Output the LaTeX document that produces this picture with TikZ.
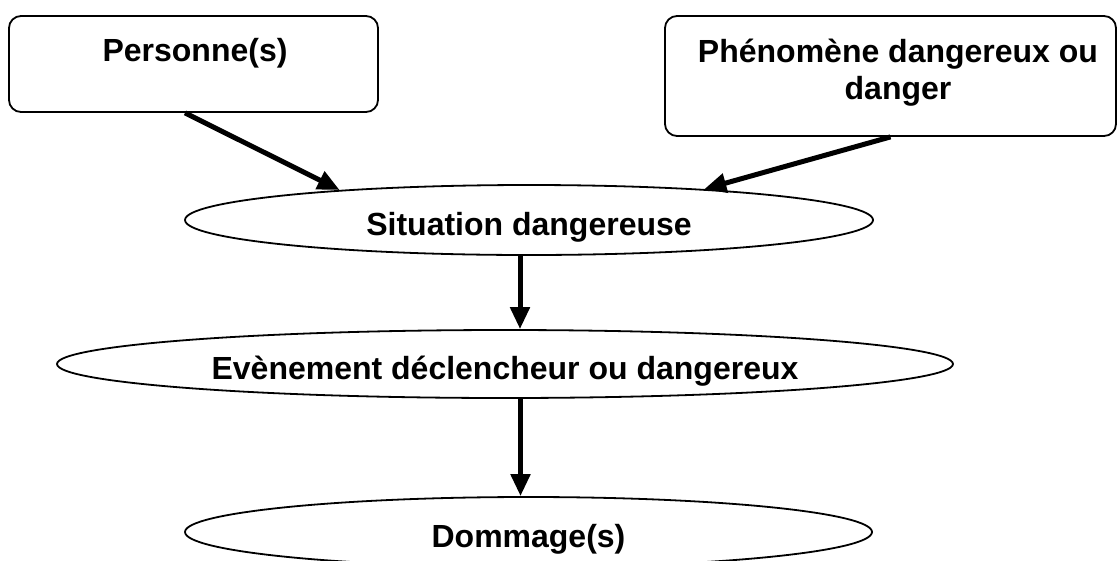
\documentclass[tikz,border=0pt]{standalone}
\usepackage{fontspec}
\setmainfont{Liberation Sans}
\usetikzlibrary{shapes.geometric,arrows.meta}
\begin{document}
\begin{tikzpicture}[x=1pt,y=-1pt,
  box/.style={draw, line width=1.8pt, rounded corners=12pt, inner sep=0pt},
  txt/.style={font=\fontsize{32}{37}\selectfont\bfseries, inner sep=0pt, align=center, anchor=base},
  ell/.style={draw, ellipse, line width=1.8pt, inner sep=0pt, font=\fontsize{32}{37}\selectfont\bfseries, text height=30pt, text depth=0pt},
  arr/.style={line width=5pt, -{Triangle[length=22pt,width=19pt]}}]
\useasboundingbox (0,0) rectangle (1118,560);
\node[box, minimum width=369pt, minimum height=96pt] (box0) at (193.5,64){};
\node[txt] (lbl0) at (195,61){Personne(s)};
\node[box, minimum width=451pt, minimum height=120pt] (box1) at (890.5,76){};
\node[txt] (lbl1) at (898,99){Phénomène dangereux ou\\danger};
\node[ell, minimum width=688pt, minimum height=70pt] (ell0) at (529,220){Situation dangereuse};
\node[ell, minimum width=896pt, minimum height=68pt] (ell1) at (505,364){Evènement déclencheur ou dangereux};
\node[ell, minimum width=687pt, minimum height=70pt] (ell2) at (528.5,532){Dommage(s)};
\draw[arr]([xshift=-8.5pt]box0.south) -- (ell0.171);
\draw[arr](box1.south) -- (ell0.10);
\draw[arr]([xshift=-9pt]ell0.south) -- ([xshift=-9pt]ell0.south |- ell1.north);
\draw[arr]([xshift=-8pt]ell2.north |- ell1.south) -- ([xshift=-8pt]ell2.north);
\end{tikzpicture}
\end{document}
